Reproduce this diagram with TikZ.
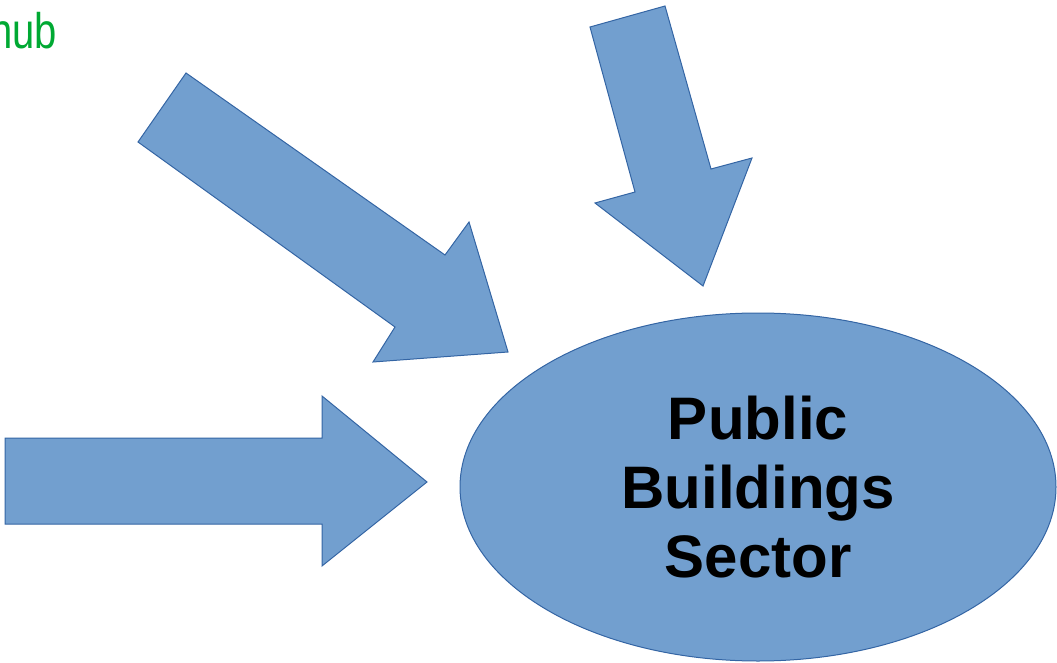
\documentclass[tikz,border=0pt]{standalone}
\usepackage{fontspec}
\setmainfont{Liberation Sans}
\usetikzlibrary{shapes.geometric}
\definecolor{shapefill}{HTML}{729FCF}
\definecolor{shapeline}{HTML}{3465A4}
\definecolor{hubgreen}{HTML}{00A933}
\tikzset{
  blockarrow/.style={fill=shapefill, draw=shapeline, line width=1pt, line join=miter},
  sectorbox/.style={ellipse, fill=shapefill, draw=shapeline, line width=1pt,
    minimum width=596pt, minimum height=348pt, inner sep=0pt,
    align=center, font=\fontsize{60}{69}\selectfont\bfseries, text=black},
  hublabel/.style={font=\fontsize{50}{60}\selectfont, text=hubgreen, inner sep=0pt, xscale=0.8}
}
\begin{document}
\begin{tikzpicture}[x=1pt, y=-1pt]
\useasboundingbox (0,0) rectangle (1057,663);
% label at top-left (cut by the left edge, as in the reference)
\node[hublabel, anchor=base west] (hub) at (-10,49) {hub};
% top arrow (pointing down)
\draw[blockarrow] (590,27) -- (665,6) -- (711,169) -- (752,158) -- (703,286) -- (595,203) -- (635,192) -- cycle;
% diagonal arrow
\draw[blockarrow] (186,73) -- (445,255) -- (469,222) -- (508,352) -- (373,362) -- (395,327) -- (138,142) -- cycle;
% horizontal arrow
\draw[blockarrow] (5,438) -- (322,438) -- (322,396) -- (427,482) -- (322,566) -- (322,524) -- (5,524) -- cycle;
% sector ellipse
\node[sectorbox] (sector) at (758,487) {Public\\Buildings\\Sector};
\end{tikzpicture}
\end{document}
